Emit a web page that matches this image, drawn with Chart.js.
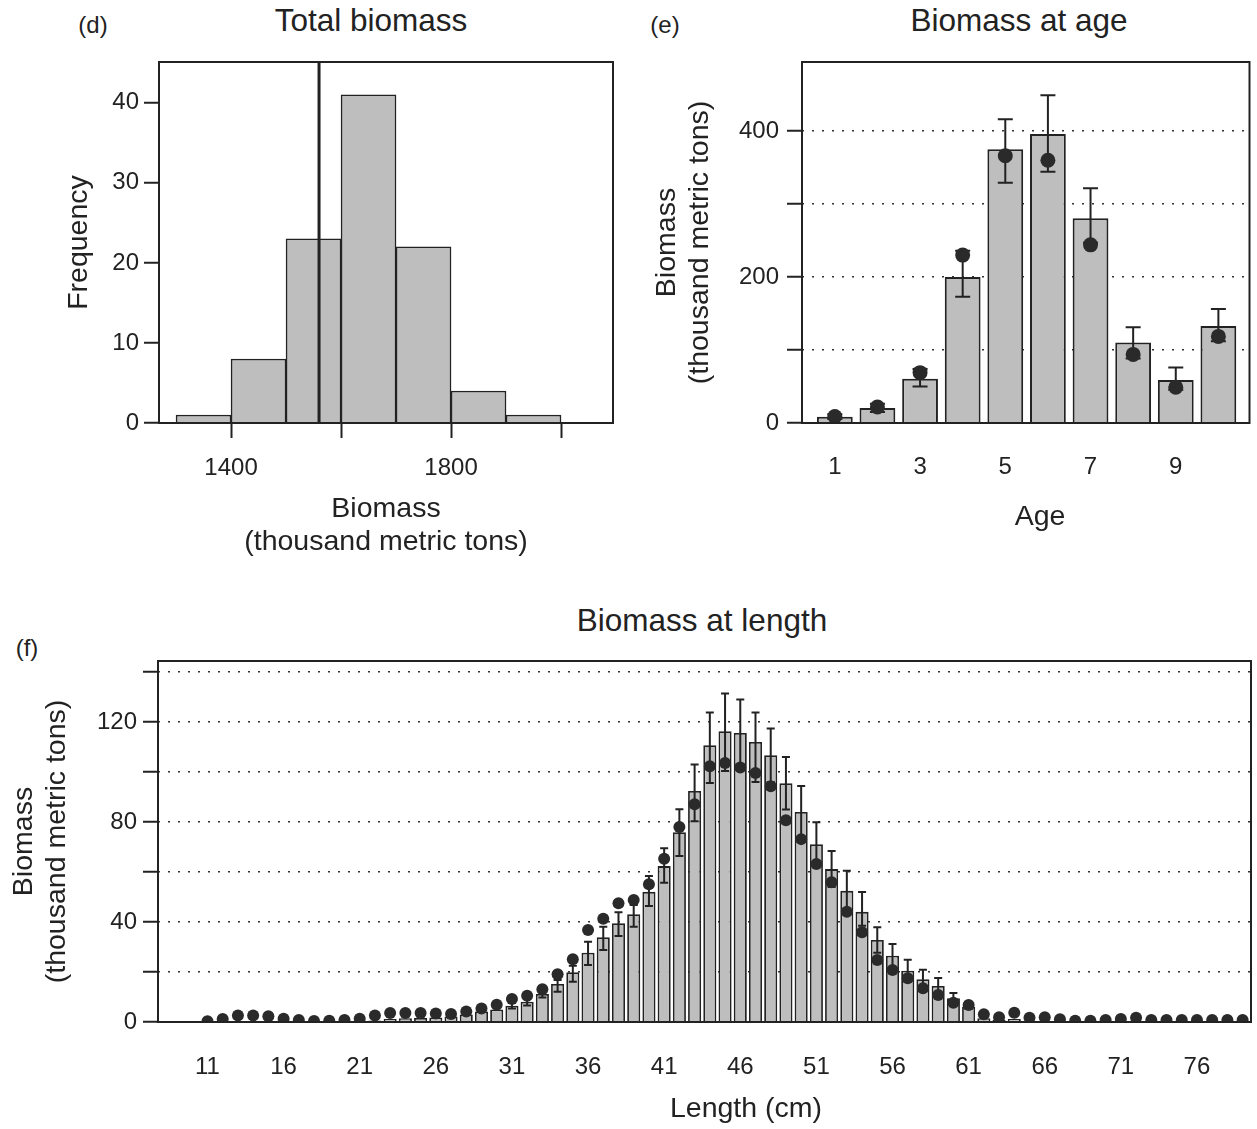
<!DOCTYPE html>
<html>
<head>
<meta charset="utf-8">
<script src="https://cdn.jsdelivr.net/npm/chart.js@4.4.0/dist/chart.umd.min.js"></script>
<style>
  html, body { margin: 0; padding: 0; background: #fff; }
  body { width: 1257px; height: 1129px; position: relative; overflow: hidden; font-family: "Liberation Sans", Arial, sans-serif; color: #222; }
  .pane { position: absolute; }
  .lbl { position: absolute; white-space: nowrap; transform: translate(-50%, -50%); line-height: 1; }
  .main { font-size: 31.5px; }
  .axis { font-size: 28.5px; }
  .tag { font-size: 24px; }
</style>
</head>
<body>
<div class="lbl tag" style="left:93px;top:25px">(d)</div>
<div class="lbl main" style="left:371px;top:21px">Total biomass</div>
<div class="lbl tag" style="left:665px;top:25px">(e)</div>
<div class="lbl main" style="left:1019px;top:21px">Biomass at age</div>
<div class="lbl main" style="left:702px;top:621px">Biomass at length</div>
<div class="lbl tag" style="left:27px;top:648px">(f)</div>

<div class="pane" style="left:0;top:0;width:640px;height:570px"><canvas id="histChart"></canvas></div>
<div class="pane" style="left:640px;top:0;width:617px;height:570px"><canvas id="ageChart"></canvas></div>
<div class="pane" style="left:0;top:570px;width:1257px;height:559px"><canvas id="lengthChart"></canvas></div>

<div class="lbl axis" style="left:1040px;top:515px">Age</div>
<div class="lbl axis" style="left:746px;top:1107px">Length (cm)</div>

<script>
// (d) total biomass histogram
const binMids = [1350, 1450, 1550, 1650, 1750, 1850, 1950];
const binCounts = [1, 8, 23, 41, 22, 4, 1];
const meanBiomass = 1560;
const freqTicks = [0, 10, 20, 30, 40];
const biomassTicks = [1400, 1600, 1800, 2000];
const biomassLabels = [1400, 1800];

// (e) biomass at age
const ages = [1, 2, 3, 4, 5, 6, 7, 8, 9, 10];
const ageBars = [8.7, 20.5, 60.7, 200, 375, 396, 280.5, 110.4, 58.8, 132.7];
const agePoints = [9, 22, 69, 230, 366, 360, 244, 94, 49, 118.6];
const ageErrLo = [5.5, 15, 50, 173, 329, 344, 247, 88.5, 45.6, 112];
const ageErrHi = [12, 26.5, 74, 236, 416, 449, 321.5, 131, 76, 156];
const ageTicks = [1, 3, 5, 7, 9];
const ageYTicks = [0, 100, 200, 300, 400];
const ageYLabels = [0, 200, 400];

// (f) biomass at length
const lengths = [11, 12, 13, 14, 15, 16, 17, 18, 19, 20, 21, 22, 23, 24, 25, 26, 27, 28, 29, 30,
  31, 32, 33, 34, 35, 36, 37, 38, 39, 40, 41, 42, 43, 44, 45, 46, 47, 48, 49, 50,
  51, 52, 53, 54, 55, 56, 57, 58, 59, 60, 61, 62, 63, 64, 65, 66, 67, 68, 69, 70,
  71, 72, 73, 74, 75, 76, 77, 78, 79];
const lengthBars = [0.1, 0.2, 0.3, 0.3, 0.3, 0.2, 0.2, 0.2, 0.2, 0.3, 0.4, 0.6, 1.2, 1.5, 1.6, 1.8, 2.2, 3.0, 4.2, 5.0,
  6.5, 8.1, 11.2, 15.2, 19.9, 27.7, 33.9, 39.5, 43.1, 52.1, 62.4, 76.0, 92.5, 110.8, 116.4, 115.7, 112.1, 106.8, 95.6, 84.1,
  71.1, 61.2, 52.5, 44.1, 32.8, 26.5, 20.5, 17.1, 14.4, 9.5, 6.1, 1.5, 0.8, 1.2, 0.5, 0.4, 0.3, 0.2, 0.1, 0.1,
  0.1, 0.1, 0.1, 0.1, 0.1, 0.1, 0.1, 0.1, 0.1];
const lengthPoints = [0.3, 1.2, 2.6, 2.6, 2.3, 1.3, 0.8, 0.4, 0.5, 0.8, 1.3, 2.6, 3.6, 3.6, 3.6, 3.4, 3.2, 4.2, 5.4, 6.9,
  9.2, 10.5, 13.1, 19.1, 25.1, 36.8, 41.3, 47.5, 48.8, 55.1, 65.3, 78.1, 87.2, 102.4, 103.7, 101.9, 99.7, 94.4, 80.8, 73.2,
  63.2, 55.9, 44.1, 35.9, 24.8, 20.8, 17.5, 13.5, 10.8, 7.7, 6.8, 3.1, 1.9, 3.7, 1.7, 1.9, 1.1, 0.5, 0.5, 0.8,
  1.2, 1.7, 0.8, 0.8, 0.8, 0.8, 0.8, 0.8, 0.8];
const lengthErrLo = [null, null, null, null, null, null, null, null, null, null, null, null, null, null, null, null, null, null, null, null,
  5.4, 6.6, 9.8, 12.1, 16.1, 22.8, 28.8, 34.4, 38.1, 46.4, 55.7, 66.4, 80.4, 95.7, 100.5, 102.3, 96.1, 96.1, 85.1, 73.7,
  62.2, 54.0, 44.5, 38.5, 27.7, 21.8, 16.1, 13.3, 11.2, 7.4, 5.2, null, null, null, null, null, null, null, null, null,
  null, null, null, null, null, null, null, null, null];
const lengthErrHi = [null, null, null, null, null, null, null, null, null, null, null, null, null, null, null, null, null, null, null, null,
  7.6, 9.6, 12.4, 16.8, 22.5, 32.1, 38.1, 43.9, 46.8, 58.4, 69.5, 85.2, 103.1, 123.9, 131.5, 129.1, 123.9, 117.5, 106.1, 94.5,
  80.0, 68.4, 60.5, 52.0, 37.9, 31.2, 24.9, 20.9, 17.6, 11.6, 7.0, null, null, null, null, null, null, null, null, null,
  null, null, null, null, null, null, null, null, null];
const lengthTicks = [11, 16, 21, 26, 31, 36, 41, 46, 51, 56, 61, 66, 71, 76];
const lengthYTicks = [0, 20, 40, 60, 80, 100, 120, 140];
const lengthYLabels = [0, 40, 80, 120];

const family = "'Liberation Sans', Arial, sans-serif";
const ink = "#222";
const barFill = "#bebebe";
const dotFill = "#2a2a2a";

Chart.defaults.font.family = family;
Chart.defaults.color = ink;
Chart.defaults.animation = false;

const toXY = (xs, ys) => xs.map((x, i) => ({ x, y: ys[i] }));

const boxPlugin = {
  id: "plotBox",
  afterDraw(chart) {
    const { ctx, chartArea: a } = chart;
    ctx.save();
    ctx.strokeStyle = ink;
    ctx.lineWidth = 2;
    ctx.strokeRect(a.left, a.top, a.right - a.left, a.bottom - a.top);
    ctx.restore();
  },
};

// draws lo-hi whiskers right after the bar dataset, so the dots sit on top
const errorBarPlugin = {
  id: "errorBars",
  afterDatasetDraw(chart, args, opts) {
    const ds = chart.data.datasets[args.index];
    if (!ds.errLo) return;
    const { ctx } = chart;
    const xs = chart.scales.x;
    const ys = chart.scales.y;
    const cap = opts.cap || 6;
    ctx.save();
    ctx.strokeStyle = ink;
    ctx.lineWidth = opts.width || 2;
    ds.data.forEach((p, i) => {
      const lo = ds.errLo[i];
      const hi = ds.errHi[i];
      if (lo == null || hi == null) return;
      const px = xs.getPixelForValue(p.x);
      const y1 = ys.getPixelForValue(lo);
      const y2 = ys.getPixelForValue(hi);
      ctx.beginPath();
      ctx.moveTo(px, y1);
      ctx.lineTo(px, y2);
      ctx.moveTo(px - cap, y1);
      ctx.lineTo(px + cap, y1);
      ctx.moveTo(px - cap, y2);
      ctx.lineTo(px + cap, y2);
      ctx.stroke();
    });
    ctx.restore();
  },
};

const fixedTicks = (list) => (scale) => {
  scale.ticks = list.map((value) => ({ value }));
};

const yAxis = ({ max, ticks, labels, width, title, titlePad, dotted, padding }) => ({
  type: "linear",
  min: 0,
  max,
  afterBuildTicks: fixedTicks(ticks),
  afterFit: (s) => { s.width = width; },
  grid: {
    drawOnChartArea: dotted,
    color: "#333",
    lineWidth: 1.5,
    tickLength: 15,
    tickWidth: 2,
    tickColor: ink,
    tickBorderDash: [],
  },
  border: { display: false, dash: [2, 8] },
  ticks: {
    color: ink,
    padding,
    autoSkip: false,
    font: { size: 24 },
    callback: (v) => (labels.includes(v) ? String(v) : ""),
  },
  title: {
    display: true,
    text: title,
    color: ink,
    font: { size: 28.5, lineHeight: 1.16 },
    padding: { top: titlePad, bottom: 0 },
  },
});

// (d)
new Chart(document.getElementById("histChart"), {
  type: "bar",
  data: {
    datasets: [
      {
        type: "line",
        data: [{ x: meanBiomass, y: 0 }, { x: meanBiomass, y: 45.1 }],
        borderColor: ink,
        borderWidth: 3,
        pointRadius: 0,
        order: 0,
      },
      {
        data: toXY(binMids, binCounts),
        backgroundColor: barFill,
        borderColor: ink,
        borderWidth: 1.5,
        barPercentage: 1,
        categoryPercentage: 1,
        order: 1,
      },
    ],
  },
  options: {
    responsive: true,
    maintainAspectRatio: false,
    layout: { padding: { top: 62, right: 27, left: 0, bottom: 0 } },
    plugins: { legend: { display: false }, tooltip: { enabled: false } },
    scales: {
      x: {
        type: "linear",
        min: 1269,
        max: 2094.5,
        offset: false,
        afterBuildTicks: fixedTicks(biomassTicks),
        afterFit: (s) => { s.height = 147; },
        grid: { drawOnChartArea: false, offset: false, tickLength: 15, tickWidth: 2, tickColor: ink },
        border: { display: false },
        ticks: {
          color: ink,
          padding: 16,
          autoSkip: false,
          maxRotation: 0,
          font: { size: 24 },
          callback: (v) => (biomassLabels.includes(v) ? String(v) : ""),
        },
        title: {
          display: true,
          text: ["Biomass", "(thousand metric tons)"],
          color: ink,
          font: { size: 28.5, lineHeight: 1.16 },
          padding: { top: 0, bottom: 11 },
        },
      },
      y: yAxis({ max: 45.1, ticks: freqTicks, labels: freqTicks, width: 159, title: "Frequency", titlePad: 63, dotted: false, padding: 5 }),
    },
  },
  plugins: [boxPlugin],
});

// (e)
new Chart(document.getElementById("ageChart"), {
  type: "bar",
  data: {
    datasets: [
      {
        type: "line",
        data: toXY(ages, agePoints),
        showLine: false,
        pointRadius: 7.5,
        pointBackgroundColor: dotFill,
        pointBorderWidth: 0,
        clip: 0,
        order: 0,
      },
      {
        data: toXY(ages, ageBars),
        errLo: ageErrLo,
        errHi: ageErrHi,
        backgroundColor: barFill,
        borderColor: ink,
        borderWidth: 2,
        barPercentage: 0.84,
        categoryPercentage: 1,
        order: 1,
      },
    ],
  },
  options: {
    responsive: true,
    maintainAspectRatio: false,
    layout: { padding: { top: 62, right: 6, left: 0, bottom: 0 } },
    plugins: { legend: { display: false }, tooltip: { enabled: false }, errorBars: { cap: 7.5, width: 2 } },
    scales: {
      x: {
        type: "linear",
        min: 0.23,
        max: 10.73,
        offset: false,
        afterBuildTicks: fixedTicks(ageTicks),
        afterFit: (s) => { s.height = 147; },
        grid: { display: false, drawTicks: false, offset: false },
        border: { display: false },
        ticks: { color: ink, padding: 30, autoSkip: false, maxRotation: 0, font: { size: 24 } },
      },
      y: yAxis({ max: 494.5, ticks: ageYTicks, labels: ageYLabels, width: 162, title: ["Biomass", "(thousand metric tons)"], titlePad: 11, dotted: true, padding: 8 }),
    },
  },
  plugins: [boxPlugin, errorBarPlugin],
});

// (f)
new Chart(document.getElementById("lengthChart"), {
  type: "bar",
  data: {
    datasets: [
      {
        type: "line",
        data: toXY(lengths, lengthPoints),
        showLine: false,
        pointRadius: 6,
        pointBackgroundColor: dotFill,
        pointBorderWidth: 0,
        clip: 0,
        order: 0,
      },
      {
        data: toXY(lengths, lengthBars),
        errLo: lengthErrLo,
        errHi: lengthErrHi,
        backgroundColor: barFill,
        borderColor: ink,
        borderWidth: 1.8,
        barPercentage: 0.86,
        categoryPercentage: 1,
        order: 1,
      },
    ],
  },
  options: {
    responsive: true,
    maintainAspectRatio: false,
    layout: { padding: { top: 91, right: 2, left: 0, bottom: 0 } },
    plugins: { legend: { display: false }, tooltip: { enabled: false }, errorBars: { cap: 4, width: 2 } },
    scales: {
      x: {
        type: "linear",
        min: 7.75,
        max: 79.55,
        offset: false,
        afterBuildTicks: fixedTicks(lengthTicks),
        afterFit: (s) => { s.height = 107; },
        grid: { display: false, drawTicks: false, offset: false },
        border: { display: false },
        ticks: { color: ink, padding: 31, autoSkip: false, maxRotation: 0, font: { size: 24 } },
      },
      y: yAxis({ max: 144.5, ticks: lengthYTicks, labels: lengthYLabels, width: 158, title: ["Biomass", "(thousand metric tons)"], titlePad: 8, dotted: true, padding: 6 }),
    },
  },
  plugins: [boxPlugin, errorBarPlugin],
});
</script>
</body>
</html>
